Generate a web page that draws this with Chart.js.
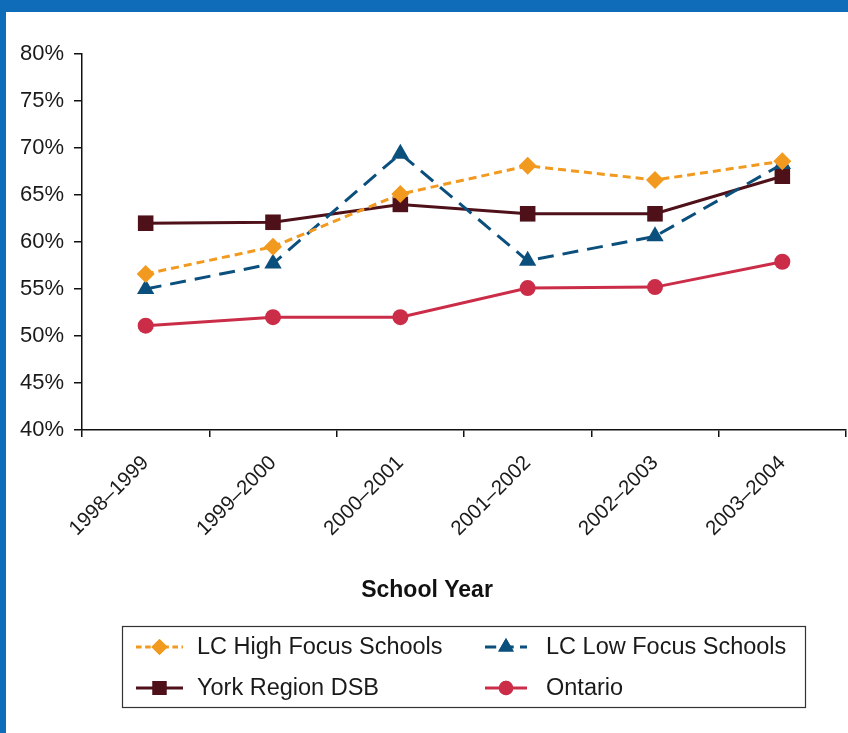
<!DOCTYPE html>
<html>
<head>
<meta charset="utf-8">
<script src="https://cdn.jsdelivr.net/npm/chart.js@4"></script>
<style>
  html,body{margin:0;padding:0;background:#fff;}
  #wrap{position:relative;width:848px;height:733px;}
  #topbar{position:absolute;left:0;top:0;width:848px;height:12px;background:#0F6CB8;}
  #leftbar{position:absolute;left:0;top:0;width:6px;height:733px;background:#0F6CB8;}
</style>
</head>
<body>
<div id="wrap">
  <canvas id="chart" width="848" height="733"></canvas>
  <div id="topbar"></div>
  <div id="leftbar"></div>
</div>
<script>
const years = ["1998\u20131999","1999\u20132000","2000\u20132001","2001\u20132002","2002\u20132003","2003\u20132004"];
const highFocus = [56.6, 59.5, 65.1, 68.1, 66.6, 68.6];
const lowFocus  = [55.0, 57.7, 69.4, 58.0, 60.6, 68.3];
const yorkDSB   = [62.0, 62.1, 64.0, 63.0, 63.0, 67.0];
const ontario   = [51.1, 52.0, 52.0, 55.1, 55.2, 57.9];
const yTicks = [40,45,50,55,60,65,70,75,80];

const FONT = "'Liberation Sans', Arial, sans-serif";

const series = [
  {label:"LC High Focus Schools", data:highFocus, color:"#F19A1F", dash:[8,5],  style:"rectRot",  r:9},
  {label:"LC Low Focus Schools",  data:lowFocus,  color:"#0B4F7D", dash:[16,9], style:"triangle", r:10},
  {label:"York Region DSB",       data:yorkDSB,   color:"#4E1019", dash:[],     style:"rect",     r:11},
  {label:"Ontario",               data:ontario,   color:"#CB2D48", dash:[],     style:"circle",   r:8}
];

/* legend box + axis title, drawn on the canvas */
const legendPlugin = {
  id:'boxLegend',
  afterDraw(chart){
    const ctx = chart.ctx;
    ctx.save();
    ctx.fillStyle = "#111";
    ctx.font = "bold 23px " + FONT;
    ctx.textAlign = "center";
    ctx.textBaseline = "middle";
    ctx.fillText("School Year", 427, 591);

    ctx.strokeStyle = "#333";
    ctx.lineWidth = 1.2;
    ctx.strokeRect(122.5, 626.5, 683, 81);

    const cols = [136, 485];
    const rows = [647, 688];
    const lens = [47, 42];
    series.forEach((s,i) => {
      const c = i % 2;
      const x = cols[c], y = rows[Math.floor(i/2)], len = lens[c];
      ctx.strokeStyle = s.color;
      ctx.lineWidth = 3;
      ctx.setLineDash(s.dash.length ? [s.dash[0]*0.7, s.dash[1]*0.7] : []);
      ctx.beginPath();
      ctx.moveTo(x, y); ctx.lineTo(x+len, y);
      ctx.stroke();
      ctx.setLineDash([]);
      ctx.fillStyle = s.color;
      Chart.helpers.drawPoint(ctx, {pointStyle:s.style, radius:s.r*0.9, borderWidth:0}, x+len/2, y);
      ctx.fill();
      ctx.fillStyle = "#1a1a1a";
      ctx.font = "23.5px " + FONT;
      ctx.textAlign = "left";
      ctx.fillText(s.label, x+61, y+1);
    });
    ctx.restore();
  }
};

new Chart(document.getElementById("chart"), {
  type:"line",
  data:{
    labels:years,
    datasets:series.map(s => ({
      label:s.label,
      data:s.data,
      borderColor:s.color,
      backgroundColor:s.color,
      borderWidth:3,
      borderDash:s.dash,
      pointStyle:s.style,
      pointRadius:s.r,
      pointHoverRadius:s.r,
      pointBorderWidth:0,
      tension:0,
      fill:false
    }))
  },
  options:{
    responsive:false,
    animation:false,
    devicePixelRatio:1,
    layout:{autoPadding:false, padding:{left:6, top:54, right:2, bottom:0}},
    plugins:{legend:{display:false}, tooltip:{enabled:false}},
    scales:{
      x:{
        offset:true,
        border:{color:"#111", width:1.5},
        grid:{offset:true, drawOnChartArea:false, drawTicks:true, tickLength:7, color:"#111", lineWidth:1.5},
        ticks:{
          color:"#1a1a1a",
          font:{family:FONT, size:20.5},
          minRotation:45, maxRotation:45,
          padding:14
        },
        afterFit(scale){
          scale.height = 303;
          scale.paddingLeft = 0;
          scale.paddingRight = 0;
        }
      },
      y:{
        min:40, max:80,
        border:{color:"#111", width:1.5},
        grid:{drawOnChartArea:false, drawTicks:true, tickLength:8, color:"#111", lineWidth:1.5},
        afterBuildTicks(scale){ scale.ticks = yTicks.map(v => ({value:v})); },
        ticks:{
          color:"#1a1a1a",
          font:{family:FONT, size:22},
          padding:10,
          callback:v => v + "%"
        },
        afterFit(scale){
          scale.width = 76;
          scale.paddingTop = 0;
          scale.paddingBottom = 0;
        }
      }
    }
  },
  plugins:[legendPlugin]
});
</script>
</body>
</html>
